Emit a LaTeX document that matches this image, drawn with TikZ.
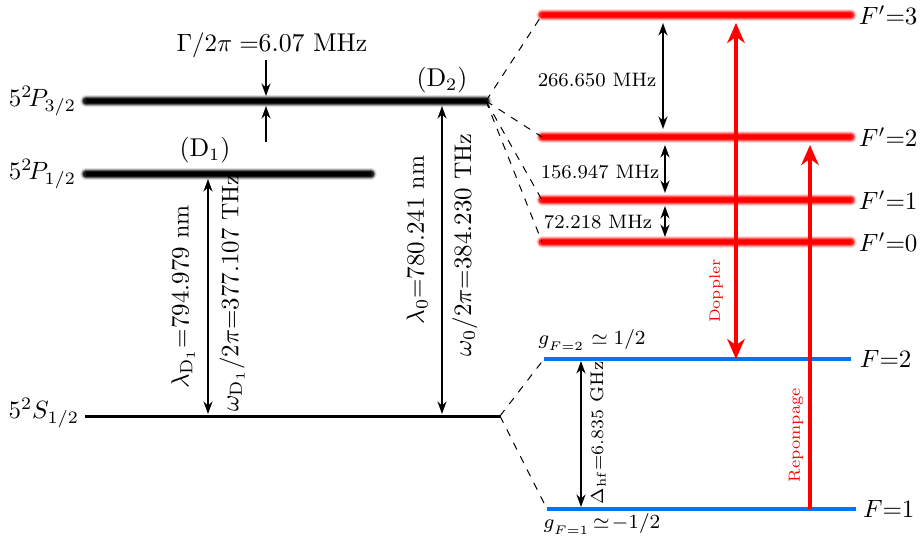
\documentclass[tikz,border=0pt]{standalone}
\usepackage{amsmath,amssymb}
\usepackage{tikz}
\usetikzlibrary{arrows.meta,positioning,calc}
\usepackage{xcolor}
\definecolor{hfblue}{RGB}{0,115,255}

\begin{document}
\begin{tikzpicture}[x=0.4pt, y=-0.4pt, every node/.style={font=\fontsize{9.6}{11}\selectfont, inner sep=1pt}, big/.style={font=\fontsize{10.3}{12}\selectfont}, small/.style={font=\fontsize{7.8}{9}\selectfont}, blackblur/.style={draw=black, line width=1.8pt, preaction={draw=black, opacity=0.12, line width=4.6pt, line cap=round}, preaction={draw=black, opacity=0.25, line width=3.8pt, line cap=round}, preaction={draw=black, opacity=0.45, line width=3pt, line cap=round}, preaction={draw=black, opacity=0.7, line width=2.4pt, line cap=round}}, redblur/.style={draw=red, line width=1.8pt, preaction={draw=red, opacity=0.12, line width=4.6pt, line cap=round}, preaction={draw=red, opacity=0.25, line width=3.8pt, line cap=round}, preaction={draw=red, opacity=0.45, line width=3pt, line cap=round}, preaction={draw=red, opacity=0.7, line width=2.4pt, line cap=round}}, ground/.style={draw=black, line width=1.2pt}, hfline/.style={draw=hfblue, line width=1.6pt}, split/.style={dashed, thin}, arrow/.style={-{Stealth[length=5pt, width=3.6pt]}, thick}, darrow/.style={{Stealth[length=5pt, width=3.6pt]}-{Stealth[length=5pt, width=3.6pt]}, thick}, laser/.style={-{Stealth[length=8pt, width=7pt, inset=2.5pt]}, red, line width=1.6pt}]
\useasboundingbox (0,0) rectangle (923,541);

\coordinate (p3l) at (86,101);
\coordinate (p3r) at (486,101);
\coordinate (p1l) at (86,174);
\coordinate (p1r) at (371,174);
\coordinate (sl) at (85,416);
\coordinate (sr) at (500,416);
\coordinate (f3l) at (542,15);
\coordinate (f3r) at (851,15);
\coordinate (f2pl) at (542,137);
\coordinate (f2pr) at (851,137);
\coordinate (f1pl) at (542,200);
\coordinate (f1pr) at (851,200);
\coordinate (f0l) at (542,242);
\coordinate (f0r) at (851,242);
\coordinate (f2l) at (544,359);
\coordinate (f2r) at (851,359);
\coordinate (f1l) at (547,509);
\coordinate (f1r) at (856,509);

\draw[blackblur] (p3l) -- (p3r);
\draw[blackblur] (p1l) -- (p1r);
\draw[ground] (sl) -- (sr);
\draw[redblur] (f3l) -- (f3r);
\draw[redblur] (f2pl) -- (f2pr);
\draw[redblur] (f1pl) -- (f1pr);
\draw[redblur] (f0l) -- (f0r);
\draw[hfline] (f2l) -- (f2r);
\draw[hfline] (f1l) -- (f1r);

\node[big, anchor=east] (lp3) at (79,101) {$5^2\!P_{3/2}$};
\node[big, anchor=east] (lp1) at (79,174) {$5^2\!P_{1/2}$};
\node[big, anchor=east] (ls) at (82,413) {$5^2S_{1/2}$};
\node[big] (gam) at (272,45) {$\Gamma/2\pi =$6.07 MHz};
\node[big] (d1) at (205,150) {(D$_1$)};
\node[big] (d2) at (442,80) {(D$_2$)};
\node[big, anchor=west] (lf3) at (856,15) {$F'{=}3$};
\node[big, anchor=west] (lf2p) at (856,137) {$F'{=}2$};
\node[big, anchor=west] (lf1p) at (856,200) {$F'{=}1$};
\node[big, anchor=west] (lf0) at (856,242) {$F'{=}0$};
\node[big, anchor=west] (lf2) at (857,359) {$F{=}2$};
\node[big, anchor=west] (lf1) at (860,509) {$F{=}1$};

\coordinate (gtop) at (266,60);
\coordinate (gbot) at (266,142);
\draw[arrow] (gtop) -- (266,96);
\draw[arrow] (gbot) -- (266,106);

\draw[darrow] (208,179) -- (208,414);
\node[rotate=90] (lamd1) at (183,297) {$\lambda_{\mathrm{D}_1}{=}794.979$ nm};
\node[rotate=90] (omd1) at (232,293) {$\omega_{\mathrm{D}_1}/2\pi{=}377.107$ THz};
\draw[darrow] (442,106) -- (442,414);
\node[rotate=90] (lamd2) at (417,240) {$\lambda_0{=}780.241$ nm};
\node[rotate=90] (omd2) at (465,245) {$\omega_0/2\pi{=}384.230$ THz};

\draw[split] (p3r) -- (f3l);
\draw[split] (p3r) -- (f2pl);
\draw[split] (p3r) -- (f1pl);
\draw[split] (p3r) -- (f0l);
\draw[split] (sr) -- (f2l);
\draw[split] (sr) -- (f1l);

\draw[darrow] (663,23) -- (663,129);
\node[small] (s32) at (597,80) {266.650 MHz};
\draw[darrow] (665,145) -- (665,193);
\node[small] (s21) at (600,172) {156.947 MHz};
\draw[darrow] (665,206) -- (665,237);
\node[small] (s10) at (598,222) {72.218 MHz};

\draw[darrow] (581,361) -- (581,507);
\node[rotate=90, font=\fontsize{7.3}{9}\selectfont] (dhf) at (598,433) {$\Delta_{\mathrm{hf}}{=}6.835$ GHz};
\node[small] (gf2) at (592,340) {$g_{_{F=2}}\simeq 1/2$};
\node[small] (gf1) at (602,524) {$g_{_{F=1}}\!\simeq\!-1/2$};

\draw[laser, {Stealth[length=8pt, width=7pt, inset=2.5pt]}-{Stealth[length=8pt, width=7pt, inset=2.5pt]}] (736,359) -- (736,23);
\node[rotate=90, red, font=\fontsize{6}{7}\selectfont] (dop) at (716,291) {Doppler};
\draw[laser] (810,509) -- (810,145);
\node[rotate=90, red, font=\fontsize{6.5}{7.5}\selectfont] (rep) at (796,435) {Repompage};
\end{tikzpicture}
\end{document}
